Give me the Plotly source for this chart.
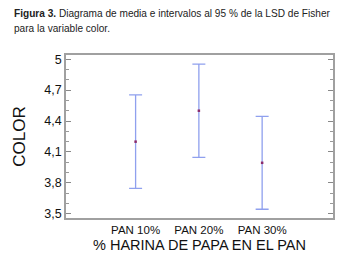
import plotly.graph_objects as go

categories = ["PAN 10%", "PAN 20%", "PAN 30%"]
means = [4.2, 4.5, 3.995]
errors = [0.453, 0.452, 0.45]
y_tickvals = [3.5, 3.8, 4.1, 4.4, 4.7, 5.0]
y_ticktext = ["3,5", "3,8", "4,1", "4,4", "4,7", "5"]

W, H = 353, 269
L, R, T, B = 66, 20, 55, 51

fig = go.Figure()
fig.add_trace(go.Scatter(
    x=categories, y=means, mode="markers",
    marker=dict(symbol="square", size=2.5, color="#8a2a6a"),
    error_y=dict(type="data", array=errors, visible=True, color="#8fa0ee", thickness=1.3, width=6.5),
    showlegend=False,
))

font = "Liberation Sans, Arial, sans-serif"
fig.update_layout(
    width=W, height=H,
    margin=dict(l=L, r=R, t=T, b=B),
    paper_bgcolor="white", plot_bgcolor="white",
    font=dict(family=font, color="#111111"),
    xaxis=dict(
        type="category", range=[-1.1, 3.12], automargin=False,
        showline=True, linecolor="#a0a0a0", linewidth=2, mirror=True,
        ticks="", showgrid=False, zeroline=False,
        tickfont=dict(size=11.5, family=font),
        title=dict(text="% HARINA DE PAPA EN EL PAN", font=dict(size=14.5, family=font), standoff=5),
    ),
    yaxis=dict(
        range=[3.46, 5.04], automargin=False,
        tickvals=y_tickvals, ticktext=y_ticktext,
        showline=True, linecolor="#a0a0a0", linewidth=1.5, mirror="ticks",
        ticks="inside", ticklen=5, tickcolor="#888888", tickwidth=1,
        minor=dict(dtick=0.1, tick0=3.5, ticks="inside", ticklen=3, tickcolor="#999999", tickwidth=1, showgrid=False),
        showgrid=False, zeroline=False,
        tickfont=dict(size=12.5, family=font),
        title=dict(text="COLOR", font=dict(size=17, family=font), standoff=14),
    ),
    annotations=[
        dict(text="<b>Figura 3.</b> Diagrama de media e intervalos al 95 % de la LSD de Fisher",
             xref="paper", yref="paper", x=(12 - L) / (W - L - R), y=1 + (T - 6) / (H - T - B),
             xanchor="left", yanchor="top", showarrow=False, font=dict(size=10.1, family=font, color="#222222")),
        dict(text="para la variable color.",
             xref="paper", yref="paper", x=(12 - L) / (W - L - R), y=1 + (T - 21) / (H - T - B),
             xanchor="left", yanchor="top", showarrow=False, font=dict(size=10.1, family=font, color="#222222")),
    ],
)

fig.write_html("out.html", config={"displayModeBar": False},
               post_script="document.body.style.margin='0';document.body.style.overflow='hidden';")
